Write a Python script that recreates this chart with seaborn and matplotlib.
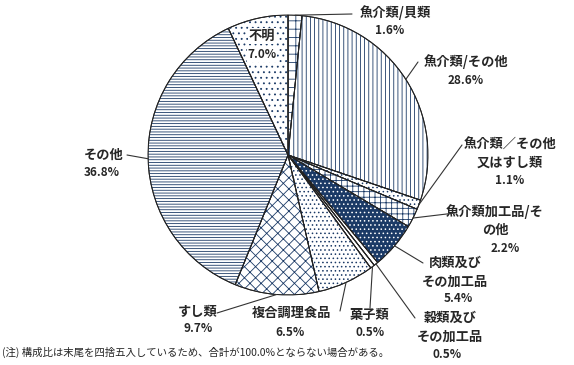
import numpy as np
import seaborn as sns
import matplotlib.pyplot as plt
from matplotlib.patches import Wedge

sns.set_theme(style="white")
plt.rcParams["font.family"] = ["Noto Sans CJK JP", "DejaVu Sans"]
plt.rcParams["hatch.linewidth"] = 0.6

NAVY = "#1b3a66"

categories = [
    "魚介類/貝類",
    "魚介類/その他",
    "魚介類／その他\n又はすし類",
    "魚介類加工品/そ\nの他",
    "肉類及び\nその加工品",
    "穀類及び\nその加工品",
    "菓子類",
    "複合調理食品",
    "すし類",
    "その他",
    "不明",
]
values = [1.6, 28.6, 1.1, 2.2, 5.4, 0.5, 0.5, 6.5, 9.7, 36.8, 7.0]
pct_labels = ["1.6%", "28.6%", "1.1%", "2.2%", "5.4%", "0.5%", "0.5%", "6.5%", "9.7%", "36.8%", "7.0%"]

# fill / hatch styles per slice
faces = ["white", "white", "white", "white", NAVY, "white", "white", "white", "white", "white", "white"]
hatches = ["++", "||||", "....", "+++", "....", "", "", "....", "xxx", "------", "..."]
hatch_cols = [NAVY, NAVY, NAVY, NAVY, "white", NAVY, NAVY, NAVY, NAVY, NAVY, NAVY]

# layout in pixels of the 574x365 picture
W, H = 574, 365
CX, CY, R = 288, 155, 140
# (center x, y of each text line)
label_pos = [
    (395, [13]),
    (466, [62]),
    (510, [145, 163]),
    (495, [212, 230]),
    (455, [263, 282]),
    (450, [318, 337]),
    (370, [315]),
    (292, [313]),
    (198, [312]),
    (104, [155]),
    (262, [36]),
]
pct_pos = [(390, 30), (466, 80), (510, 181), (505, 248), (458, 299),
           (447, 354), (370, 333), (290, 333), (198, 328), (102, 173), (262, 55)]
# leader line elbow (None: label sits inside the slice)
elbows = [(352, 14), (418, 62), (462, 145), (455, 213), (423, 263), (415, 318),
          (370, 308), (340, 311), (217, 313), (127, 155), None]


def px(x, y):
    return (x - CX) / R, (CY - y) / R


fig = plt.figure(figsize=(5.74, 3.65), dpi=100)
ax = fig.add_axes([(CX - R) / W, (H - CY - R) / H, 2 * R / W, 2 * R / H])
wedges, _ = ax.pie(values, startangle=90, counterclock=False, colors=faces,
                   wedgeprops=dict(edgecolor="#222222", linewidth=0.7))

for w, h, hc in zip(wedges, hatches, hatch_cols):
    if h:
        ax.add_patch(Wedge(w.center, w.r, w.theta1, w.theta2, facecolor="none",
                           edgecolor=hc, hatch=h, linewidth=0))
    ax.add_patch(Wedge(w.center, w.r, w.theta1, w.theta2, facecolor="none",
                       edgecolor="#222222", linewidth=0.7))

for i, w in enumerate(wedges):
    inside = elbows[i] is None
    box = dict(facecolor="white", edgecolor="none", pad=0.5) if inside else None
    if not inside:
        ang = np.deg2rad((w.theta1 + w.theta2) / 2)
        x0, y0 = np.cos(ang), np.sin(ang)
        x1, y1 = px(*elbows[i])
        ax.plot([x0, x1], [y0, y1], color="#333333", lw=0.8, clip_on=False)
    cx, ys = label_pos[i]
    for line, y in zip(categories[i].split("\n"), ys):
        ax.text(*px(cx, y), line, ha="center", va="center", fontsize=9.5,
                fontweight="bold", clip_on=False, bbox=box)
    ax.text(*px(*pct_pos[i]), pct_labels[i], ha="center", va="center",
            fontsize=8.5, fontweight="bold", clip_on=False, bbox=box)

ax.set_xlim(-1, 1)
ax.set_ylim(-1, 1)
ax.axis("off")

fig.text(2 / W, 1 - 352 / H, "(注) 構成比は末尾を四捨五入しているため、合計が100.0%とならない場合がある。",
         fontsize=7.5, va="center", ha="left")

fig.savefig("out.png", dpi=100)
